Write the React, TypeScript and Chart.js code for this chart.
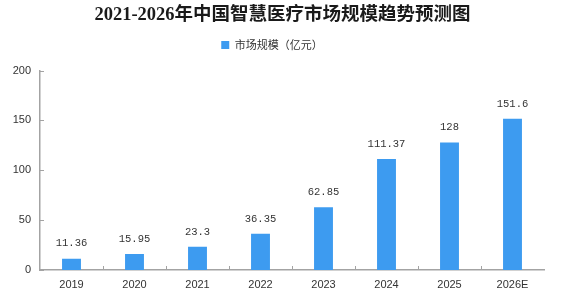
import React, { useEffect, useRef } from "react";
import { Chart, registerables } from "chart.js";

Chart.register(...registerables);

const chartTitle = "2021-2026年中国智慧医疗市场规模趋势预测图";
const seriesName = "市场规模（亿元）";
const categories = ["2019", "2020", "2021", "2022", "2023", "2024", "2025", "2026E"];
const marketSize = [11.36, 15.95, 23.3, 36.35, 62.85, 111.37, 128, 151.6];
const yTicks = [0, 50, 100, 150, 200];

const BAR_COLOR = "#3d9bf0";
const AXIS_COLOR = "#a3a3a3";
const TEXT_COLOR = "#333333";

// Heading centred over the whole canvas
const headingPlugin = {
  id: "heading",
  afterDraw(chart: any) {
    const { ctx, width } = chart;
    ctx.save();
    ctx.font = "bold 18.5px 'Liberation Serif', 'Noto Sans CJK SC', serif";
    ctx.fillStyle = "#1a1a1a";
    ctx.textAlign = "center";
    ctx.textBaseline = "middle";
    ctx.fillText(chartTitle, width / 2, 15);
    ctx.restore();
  },
};

// Value labels above each bar
const valueLabels = {
  id: "valueLabels",
  afterDatasetsDraw(chart: any) {
    const { ctx } = chart;
    const meta = chart.getDatasetMeta(0);
    ctx.save();
    ctx.font = "10.5px 'Liberation Mono', monospace";
    ctx.fillStyle = TEXT_COLOR;
    ctx.textAlign = "center";
    ctx.textBaseline = "middle";
    meta.data.forEach((bar: any, i: number) => {
      ctx.fillText(String(marketSize[i]), bar.x, bar.y - 15);
    });
    ctx.restore();
  },
};

// Short inward tick marks on both axes
const innerTicks = {
  id: "innerTicks",
  afterDraw(chart: any) {
    const { ctx, chartArea, scales } = chart;
    const y = scales.y;
    ctx.save();
    ctx.strokeStyle = AXIS_COLOR;
    ctx.lineWidth = 1;
    ctx.beginPath();
    yTicks.forEach((v) => {
      const py = Math.round(y.getPixelForValue(v)) + 0.5;
      ctx.moveTo(chartArea.left, py);
      ctx.lineTo(chartArea.left + 4, py);
    });
    const step = (chartArea.right - chartArea.left) / categories.length;
    for (let k = 1; k < categories.length; k++) {
      const px = Math.round(chartArea.left + step * k) + 0.5;
      ctx.moveTo(px, chartArea.bottom);
      ctx.lineTo(px, chartArea.bottom - 4);
    }
    ctx.stroke();
    ctx.restore();
  },
};

export default function App() {
  const canvasRef = useRef<HTMLCanvasElement | null>(null);

  useEffect(() => {
    if (!canvasRef.current) return;
    const chart = new Chart(canvasRef.current, {
      type: "bar",
      data: {
        labels: categories,
        datasets: [
          {
            label: seriesName,
            data: marketSize,
            backgroundColor: BAR_COLOR,
            borderWidth: 0,
            barPercentage: 0.3,
            categoryPercentage: 1,
          },
        ],
      },
      options: {
        animation: false,
        responsive: false,
        maintainAspectRatio: false,
        layout: { padding: { left: 0, right: 21, top: 28.6, bottom: 0 } },
        plugins: {
          title: { display: false },
          // empty spacer between the legend and the plot
          subtitle: {
            display: true,
            text: "",
            weight: 500,
            font: { size: 1 },
            padding: { top: 0, bottom: 8.8 },
          } as any,
          legend: {
            display: true,
            labels: {
              boxWidth: 8,
              boxHeight: 8,
              color: TEXT_COLOR,
              font: { family: "'Noto Sans CJK SC', sans-serif", size: 11 },
              padding: 11,
            },
          },
          tooltip: { enabled: false },
        },
        scales: {
          x: {
            grid: { display: false, drawTicks: false },
            border: { display: true, color: AXIS_COLOR, width: 1.5 },
            ticks: {
              color: TEXT_COLOR,
              font: { family: "'Liberation Sans', sans-serif", size: 11 },
              padding: 8,
              maxRotation: 0,
            },
            afterFit(scale: any) {
              scale.height = 26;
            },
          },
          y: {
            min: 0,
            max: 200,
            grid: { display: false, drawTicks: false },
            border: { display: true, color: AXIS_COLOR, width: 1.5 },
            ticks: {
              stepSize: 50,
              color: TEXT_COLOR,
              font: { family: "'Liberation Sans', sans-serif", size: 11 },
              padding: 9,
            },
            afterFit(scale: any) {
              scale.width = 40;
            },
          },
        },
      },
      plugins: [headingPlugin, valueLabels, innerTicks],
    });
    return () => chart.destroy();
  }, []);

  return (
    <div style={{ position: "fixed", left: 0, top: 0, width: 565, height: 296, background: "#fff" }}>
      <canvas ref={canvasRef} width={565} height={296} />
    </div>
  );
}
